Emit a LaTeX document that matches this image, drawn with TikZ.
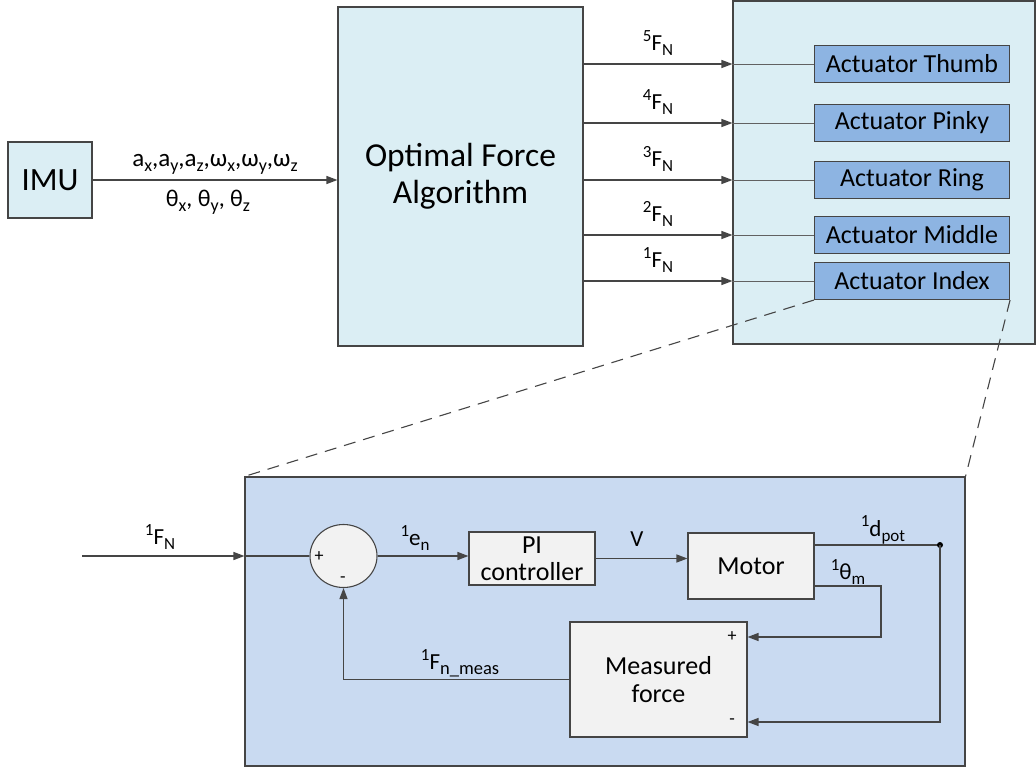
\documentclass[tikz,border=0pt]{standalone}
\usepackage{fontspec}
\setmainfont{Carlito}
\usetikzlibrary{arrows.meta,shapes.geometric}

\definecolor{paleblue}{HTML}{DBEEF4}
\definecolor{actblue}{HTML}{8DB4E2}
\definecolor{loopblue}{HTML}{C9DAF1}
\definecolor{boxgray}{HTML}{F2F2F2}
\definecolor{edge}{HTML}{454545}

% small raised / lowered text for indices
\newcommand\lsup[1]{\raisebox{0.40em}{\fontsize{17}{17}\selectfont #1}}
\newcommand\lsub[1]{\raisebox{-0.22em}{\fontsize{17}{17}\selectfont #1}}
\newcommand\msub[1]{\raisebox{-0.20em}{\fontsize{18}{18}\selectfont #1}}

\tikzset{
  blk/.style={draw=edge, line width=1.1pt, inner sep=0pt, align=center},
  actbox/.style={blk, fill=actblue, minimum width=195, minimum height=37,
                 font=\fontsize{26}{28}\selectfont},
  graybox/.style={blk, fill=boxgray},
  wire/.style={draw=edge, line width=1.3pt},
  thinwire/.style={draw=edge!85, line width=0.9pt},
  arr/.style={wire, -{Triangle[length=11pt,width=8pt]}},
  lbl/.style={inner sep=0pt, font=\fontsize{23}{26}\selectfont},
  sgn/.style={inner sep=0pt, font=\fontsize{18}{20}\selectfont},
}

\begin{document}
\begin{tikzpicture}[x=1pt,y=-1pt]
\useasboundingbox (0,0) rectangle (1036,773);

% upper level: sensor, algorithm, actuator panel
\node[blk, fill=paleblue, minimum width=84, minimum height=76,
      font=\fontsize{32.5}{36}\selectfont] (imu) at (50,180) {IMU};
\node[blk, fill=paleblue, minimum width=245, minimum height=339,
      font=\fontsize{33.5}{37}\selectfont] (ofa) at (460.5,176.5) {Optimal Force\\Algorithm};
\node[blk, fill=paleblue, minimum width=302, minimum height=343] (panel) at (884,172.5) {};

\node[actbox] (thumb)  at (912,64)  {Actuator Thumb};
\node[actbox] (pinky)  at (912,123) {Actuator Pinky};
\node[actbox] (ring)   at (912,180) {Actuator Ring};
\node[actbox] (middle) at (912,235) {Actuator Middle};
\node[actbox] (index)  at (912,281) {Actuator Index};

\draw[arr] (imu.east) -- (imu.east -| ofa.west);
\node[lbl, font=\fontsize{25}{28}\selectfont] (acc) at (215,164)
  {a\msub{x},a\msub{y},a\msub{z},ω\msub{x},ω\msub{y},ω\msub{z}};
\node[lbl, font=\fontsize{24}{28}\selectfont] (ang) at (208,202)
  {θ\msub{x}, θ\msub{y}, θ\msub{z}};

% normal force commands to each finger actuator
\foreach \act/\k in {thumb/5, pinky/4, ring/3, middle/2, index/1}{
  \draw[arr] (ofa.east |- \act.west) -- node[lbl, above=8pt] {\lsup{\k}F\lsub{N}} (panel.west |- \act.west);
  \draw[thinwire] (panel.west |- \act.west) -- (\act.west);
}

% lower level: force loop of one actuator
\node[blk, fill=loopblue, minimum width=720, minimum height=289] (loop) at (605,621.5) {};
\draw[wire, dashed, dash pattern=on 12pt off 8pt, line width=1.1pt] (index.south west) -- (loop.north west);
\draw[wire, dashed, dash pattern=on 12pt off 8pt, line width=1.1pt] (index.south east) -- (loop.north east);

\node[blk, fill=boxgray, ellipse, minimum width=67, minimum height=63] (sum) at (343.5,556) {};
\node[sgn] (sumplus) at (319,557) {+};
\node[sgn] (summinus) at (343,580) {-};

\node[graybox, minimum width=126, minimum height=53, font=\fontsize{26}{27}\selectfont] (pi) at (532,558.5) {PI\\controller};
\node[graybox, minimum width=126, minimum height=66, font=\fontsize{26}{28}\selectfont] (motor) at (751,566) {Motor};
\node[graybox, minimum width=177, minimum height=115, font=\fontsize{26}{28}\selectfont] (meas) at (658.5,679.5) {Measured\\force};
\node[sgn] (measplus) at (732,637) {+};
\node[sgn] (measminus) at (732,722) {-};

\coordinate (src) at (82,556);
\draw[arr] (src) -- (src -| loop.west);
\draw[wire] (src -| loop.west) -- (sum.west);
\node[lbl] (fin) at (160,537) {\lsup{1}F\lsub{N}};

\draw[arr] (sum.east) -- (pi.west |- sum.east);
\node[lbl] (err) at (415,538) {\lsup{1}e\lsub{n}};

\draw[arr] (pi.east) -- (motor.west |- pi.east);
\node[lbl] (volt) at (637,539) {V};

\coordinate (junc) at (940,545);
\draw[wire] (motor.east |- junc) -- (junc);
\fill[black] (junc) circle (3pt);
\node[lbl] (dpot) at (883,530) {\lsup{1}d\lsub{pot}};
\draw[arr] (junc) |- (meas.east |- measminus);

\coordinate (thm) at (814,586);
\draw[arr] (thm) -- (881,586) |- (meas.east |- measplus);
\node[lbl] (theta) at (848,572) {\lsup{1}θ\lsub{m}};

\draw[arr] (meas.west) -| (sum.south);
\node[lbl] (fmeas) at (460,663) {\lsup{1}F\lsub{\fontsize{18.5}{18}\selectfont n\_meas}};
\end{tikzpicture}
\end{document}
